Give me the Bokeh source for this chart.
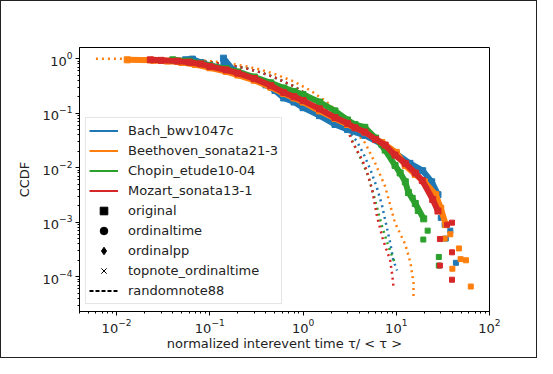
from bokeh.plotting import figure
from bokeh.models import Range1d, Legend, LegendItem, ColumnDataSource
from bokeh.embed import file_html
from bokeh.resources import INLINE

# ---------------- data ----------------
composers = ["Bach_bwv1047c", "Beethoven_sonata21-3", "Chopin_etude10-04", "Mozart_sonata13-1"]
colors = ["#1f77b4", "#ff7f0e", "#2ca02c", "#d62728"]

# main empirical CCDF bands
bach_x = [0.055, 0.065, 0.08, 0.1, 0.14, 0.14, 0.18, 0.22, 0.3, 0.4, 0.5, 0.62, 0.8, 1.0, 1.5, 2.2, 3.0, 4.6, 7.0, 10, 14, 19.2, 24, 28]
bach_y = [0.95, 0.98, 0.85, 0.75, 0.66, 1.02, 0.6, 0.52, 0.43, 0.33, 0.26, 0.19, 0.16, 0.126, 0.09, 0.062, 0.05, 0.039, 0.027, 0.018, 0.012, 0.0088, 0.0055, 0.0032]
beet_x = [0.013, 0.025, 0.035, 0.05, 0.07, 0.1, 0.15, 0.2, 0.3, 0.45, 0.62, 0.8, 1.0, 1.5, 2.2, 3.0, 4.6, 7.0, 10, 12.5, 16, 20, 26.5, 30, 34]
beet_y = [0.95, 0.93, 0.9, 0.85, 0.78, 0.68, 0.58, 0.5, 0.4, 0.3, 0.23, 0.19, 0.16, 0.11, 0.08, 0.062, 0.045, 0.029, 0.019, 0.011, 0.0075, 0.0055, 0.0032, 0.0018, 0.0009]
chop_x = [0.04, 0.06, 0.08, 0.1, 0.15, 0.2, 0.3, 0.45, 0.62, 0.8, 1.0, 1.5, 2.2, 3.0, 3.6, 4.6, 6.0, 7.6, 9.7, 11, 12.5, 13.5, 16, 19.7]
chop_y = [0.95, 0.9, 0.82, 0.74, 0.65, 0.57, 0.46, 0.36, 0.29, 0.25, 0.22, 0.16, 0.11, 0.075, 0.062, 0.055, 0.035, 0.021, 0.011, 0.008, 0.0055, 0.0035, 0.0022, 0.00115]
moz_x = [0.023, 0.03, 0.045, 0.06, 0.08, 0.1, 0.15, 0.2, 0.3, 0.45, 0.62, 0.8, 1.0, 1.5, 2.2, 3.0, 3.6, 4.6, 6.0, 7.6, 9.7, 12.5, 16, 19, 24.6, 28]
moz_y = [0.95, 0.93, 0.9, 0.86, 0.8, 0.72, 0.62, 0.54, 0.43, 0.32, 0.24, 0.2, 0.17, 0.12, 0.083, 0.065, 0.054, 0.045, 0.033, 0.026, 0.017, 0.012, 0.008, 0.0058, 0.0026, 0.0016]

# scattered tail points
bach_tail_x = [30, 34, 38, 43.6, 28, 33]
bach_tail_y = [0.0012, 0.0005, 0.0007, 0.00018, 0.0018, 0.0009]
beet_tail_x = [38, 47, 56, 63, 40, 49, 33]
beet_tail_y = [0.0006, 0.00033, 0.0002, 0.000066, 0.00014, 0.00021, 0.0005]
chop_tail_x = [21.7, 19.5, 28.6, 28.6, 17, 15]
chop_tail_y = [0.0007, 0.00048, 0.00023, 0.00016, 0.0016, 0.0028]
moz_tail_x = [39.6, 39.6, 39.6, 29.4, 29.4, 35]
moz_tail_y = [0.00098, 0.00028, 0.000088, 0.00049, 0.00016, 0.0009]

# randomnote88 curves (dotted)
bach_rand_x = [0.015, 0.03, 0.06, 0.1, 0.15, 0.25, 0.35, 0.5, 0.8, 1.2, 1.8, 2.5, 3.0, 3.8, 4.6, 5.3, 6.2, 7.0, 7.8, 8.6, 9.3, 10.2]
bach_rand_y = [1.0, 0.98, 0.93, 0.86, 0.78, 0.66, 0.56, 0.45, 0.31, 0.2, 0.12, 0.07, 0.05, 0.03, 0.016, 0.009, 0.0043, 0.0021, 0.0009, 0.00042, 0.0002, 0.00013]
beet_rand_x = [0.006, 0.01, 0.02, 0.04, 0.07, 0.1, 0.15, 0.25, 0.35, 0.5, 0.8, 1.2, 1.8, 2.5, 3.0, 3.8, 4.6, 5.9, 7.6, 9.7, 12.5, 14.2, 15.3, 15.3]
beet_rand_y = [1.0, 1.0, 0.99, 0.97, 0.94, 0.9, 0.83, 0.72, 0.63, 0.52, 0.38, 0.26, 0.16, 0.095, 0.065, 0.042, 0.029, 0.0124, 0.0045, 0.00097, 0.00039, 0.00018, 0.000077, 0.000043]
chop_rand_x = [0.015, 0.03, 0.06, 0.1, 0.15, 0.25, 0.35, 0.5, 0.8, 1.2, 1.8, 2.5, 3.0, 3.4, 4.3, 5.0, 5.9, 7.0, 8.2, 9.5]
chop_rand_y = [1.0, 0.98, 0.93, 0.86, 0.78, 0.66, 0.56, 0.45, 0.31, 0.2, 0.12, 0.07, 0.05, 0.03, 0.013, 0.007, 0.0026, 0.00086, 0.00037, 0.00019]
moz_rand_x = [0.015, 0.03, 0.06, 0.1, 0.15, 0.25, 0.35, 0.5, 0.8, 1.2, 1.8, 2.5, 3.0, 3.4, 4.3, 4.8, 5.5, 6.2, 7.2, 8.6, 9.1, 9.3]
moz_rand_y = [1.0, 0.98, 0.93, 0.86, 0.78, 0.66, 0.56, 0.45, 0.31, 0.2, 0.12, 0.07, 0.05, 0.029, 0.014, 0.009, 0.004, 0.0013, 0.00048, 0.0002, 0.0001, 0.000068]

style_labels = ["original", "ordinaltime", "ordinalpp", "topnote_ordinaltime", "randomnote88"]
style_markers = ["square", "circle", "diamond", "x"]

mains = [(bach_x, bach_y), (beet_x, beet_y), (chop_x, chop_y), (moz_x, moz_y)]
tails = [(bach_tail_x, bach_tail_y), (beet_tail_x, beet_tail_y), (chop_tail_x, chop_tail_y), (moz_tail_x, moz_tail_y)]
rands = [(bach_rand_x, bach_rand_y), (beet_rand_x, beet_rand_y), (chop_rand_x, chop_rand_y), (moz_rand_x, moz_rand_y)]

# ---------------- figure ----------------
p = figure(width=537, height=358, x_axis_type="log", y_axis_type="log",
           x_range=Range1d(0.004, 100), y_range=Range1d(2.3e-5, 1.6),
           output_backend="svg", toolbar_location=None,
           min_border_left=78, min_border_right=49, min_border_top=46, min_border_bottom=48)
p.styles = {"border": "1px solid #222"}
p.grid.visible = False
p.outline_line_color = "black"
p.outline_line_alpha = 1.0
p.background_fill_color = "white"
p.border_fill_color = "white"

for ax in (p.xaxis, p.yaxis):
    ax.axis_line_color = "black"
    ax.major_tick_line_color = "black"
    ax.minor_tick_line_color = "black"
    ax.major_tick_out = 4
    ax.major_tick_in = 0
    ax.minor_tick_out = 2
    ax.minor_tick_in = 0
    ax.major_label_text_font = "DejaVu Sans"
    ax.major_label_text_font_size = "13px"
    ax.major_label_text_color = "#222"
    ax.major_label_standoff = 3
    ax.axis_label_text_font = "DejaVu Sans"
    ax.axis_label_text_font_size = "13px"
    ax.axis_label_text_font_style = "normal"
    ax.axis_label_text_color = "#222"
p.xaxis.axis_label = "normalized interevent time τ/ < τ >"
p.yaxis.axis_label = "CCDF"
p.xaxis.axis_label_standoff = 0
p.yaxis.axis_label_standoff = 8

for c, (rx, ry) in zip(colors, rands):
    p.line(rx, ry, line_color=c, line_width=2.5, line_dash="2 4")

for c, (mx, my), (tx, ty) in zip(colors, mains, tails):
    p.line(mx, my, line_color=c, line_width=6)
    p.scatter(mx, my, marker="square", size=6, color=c)
    p.scatter(tx, ty, marker="square", size=5, color=c)

# ---------------- legend ----------------
items = []
far = dict(x=[1e6], y=[1e6])
for name, c in zip(composers, colors):
    r = p.line(x="x", y="y", source=ColumnDataSource(far), line_color=c, line_width=2)
    items.append(LegendItem(label=name, renderers=[r]))
for lab, mk in zip(style_labels[:4], style_markers):
    r = p.scatter(x="x", y="y", source=ColumnDataSource(far), marker=mk, size=8,
                  fill_color="black", line_color="black")
    items.append(LegendItem(label=lab, renderers=[r]))
r = p.line(x="x", y="y", source=ColumnDataSource(far), line_color="black", line_width=2, line_dash="4 2")
items.append(LegendItem(label=style_labels[4], renderers=[r]))

legend = Legend(items=items, location=(6, 7))
legend.label_text_font = "DejaVu Sans"
legend.label_text_font_size = "13px"
legend.label_text_color = "#222"
legend.glyph_width = 29
legend.glyph_height = 19
legend.label_height = 19
legend.spacing = 1
legend.padding = 3
legend.margin = 0
legend.label_standoff = 10
legend.border_line_color = "#cccccc"
legend.background_fill_alpha = 0.85
p.add_layout(legend)

open("out.html", "w").write(file_html(p, INLINE))
